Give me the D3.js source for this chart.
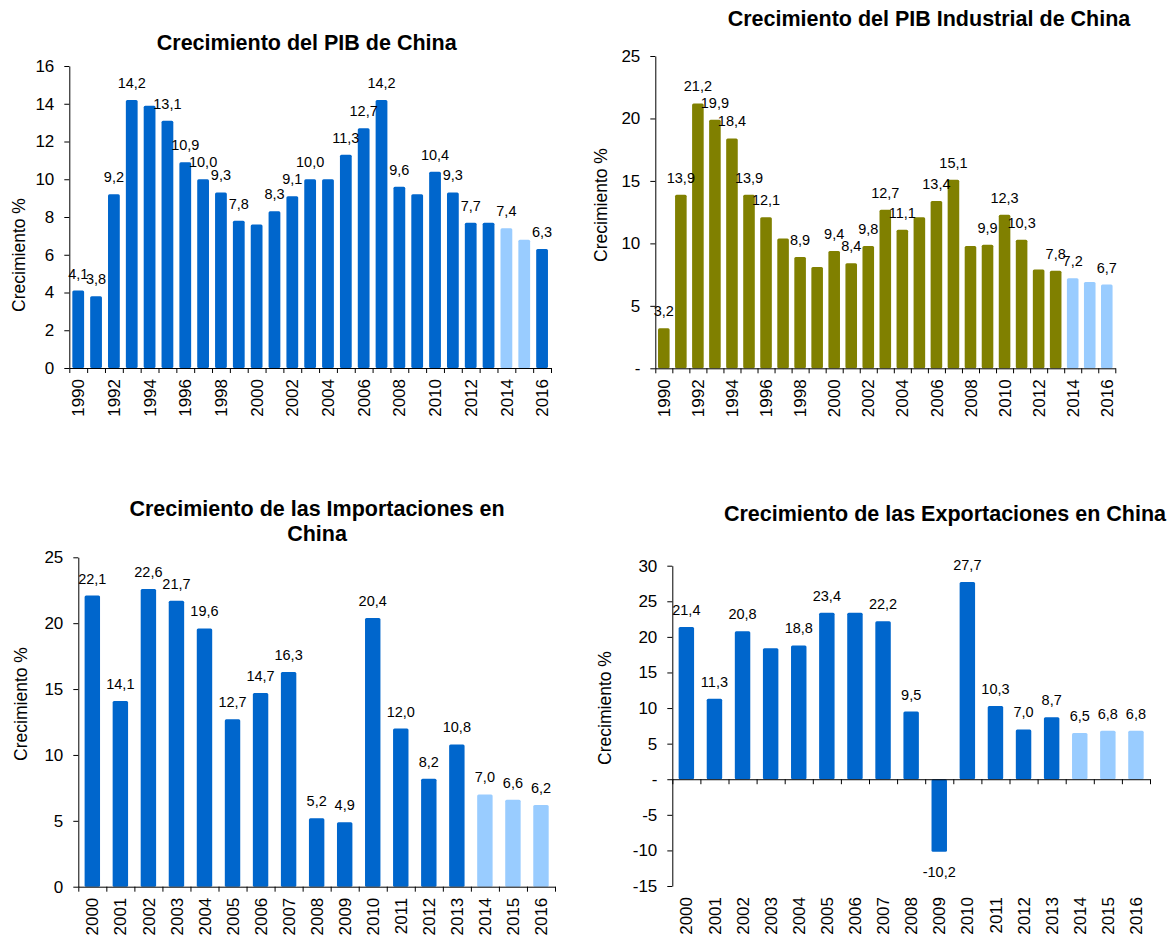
<!DOCTYPE html>
<html><head><meta charset="utf-8">
<script src="https://cdn.jsdelivr.net/npm/d3@7"></script>
<style>
body{margin:0;background:#fff}
svg{display:block}
text{font-family:"Liberation Sans",Arial,Helvetica,sans-serif;fill:#000}
</style>
</head><body>
<svg id="chart" width="1176" height="940"></svg>
<script>
// ---------- DATA ----------
const gdpYears = ["1990","1991","1992","1993","1994","1995","1996","1997","1998","1999","2000","2001","2002","2003","2004","2005","2006","2007","2008","2009","2010","2011","2012","2013","2014","2015","2016"];
const gdpValues = [4.1,3.8,9.2,14.2,13.9,13.1,10.9,10.0,9.3,7.8,7.6,8.3,9.1,10.0,10.0,11.3,12.7,14.2,9.6,9.2,10.4,9.3,7.7,7.7,7.4,6.8,6.3];
const gdpUnlabeled = ["1994","2000","2004","2009","2013","2015"];
const gdpForecast = ["2014","2015"];

const indValues = [3.2,13.9,21.2,19.9,18.4,13.9,12.1,10.4,8.9,8.1,9.4,8.4,9.8,12.7,11.1,12.1,13.4,15.1,9.8,9.9,12.3,10.3,7.9,7.8,7.2,6.9,6.7];
const indUnlabeled = ["1997","1999","2005","2008","2012","2015"];
const indForecast = ["2014","2015","2016"];

const tradeYears = ["2000","2001","2002","2003","2004","2005","2006","2007","2008","2009","2010","2011","2012","2013","2014","2015","2016"];
const impValues = [22.1,14.1,22.6,21.7,19.6,12.7,14.7,16.3,5.2,4.9,20.4,12.0,8.2,10.8,7.0,6.6,6.2];
const impUnlabeled = [];
const impForecast = ["2014","2015","2016"];

const expValues = [21.4,11.3,20.8,18.4,18.8,23.4,23.4,22.2,9.5,-10.2,27.7,10.3,7.0,8.7,6.5,6.8,6.8];
const expUnlabeled = ["2003","2006"];
const expForecast = ["2014","2015","2016"];

const longTickLabels = ["1990","1992","1994","1996","1998","2000","2002","2004","2006","2008","2010","2012","2014","2016"];
const gdpYTicks = [0,2,4,6,8,10,12,14,16];
const indYTicks = [0,5,10,15,20,25];
const impYTicks = [0,5,10,15,20,25];
const expYTicks = [-15,-10,-5,0,5,10,15,20,25,30];

const titles = {
  gdp: ["Crecimiento del PIB de China"],
  ind: ["Crecimiento del PIB Industrial de China"],
  imp: ["Crecimiento de las Importaciones en", "China"],
  exp: ["Crecimiento de las Exportaciones en China"]
};
const yTitle = "Crecimiento %";

// ---------- STYLE ----------
const DARK = "#0066CC", LIGHT = "#99CCFF", OLIVE = "#808000";
const locale = d3.formatLocale({decimal: ",", thousands: ".", grouping: [3], currency: ["", ""], minus: "-"});
const fmt1 = locale.format(".1f");

const svg = d3.select("#chart");

function drawChart(c) {
  const g = svg.append("g");
  const y = d3.scaleLinear().domain(c.domain).range([c.yBot, c.yTop]);
  const x = d3.scaleBand().domain(c.cats).range([c.x0, c.x1])
    .paddingInner(c.pad).paddingOuter(c.pad / 2);
  const xi = d3.scaleLinear().domain([0, c.cats.length]).range([c.x0, c.x1]);
  const zeroY = y(0);

  // bars
  g.selectAll("rect.bar").data(c.cats).join("rect")
    .attr("class", "bar")
    .attr("x", d => x(d))
    .attr("width", x.bandwidth())
    .attr("y", (d, i) => y(Math.max(0, c.values[i])))
    .attr("height", (d, i) => Math.abs(y(c.values[i]) - zeroY))
    .attr("rx", 1.5)
    .attr("fill", d => c.forecast.includes(d) ? LIGHT : c.color);

  // y axis
  const yAxis = d3.axisLeft(y).tickValues(c.yTicks).tickSize(5).tickSizeOuter(0)
    .tickPadding(10).tickFormat(c.yFormat);
  const ya = g.append("g").attr("transform", `translate(${c.x0},0)`).call(yAxis);
  ya.selectAll("text").style("font-size", "17px").attr("fill", "#000")
    .style("font-family", '"Liberation Sans",Arial,sans-serif');
  ya.select(".domain").attr("stroke", "#000");
  ya.selectAll(".tick line").attr("stroke", "#000");

  // x axis (ticks on category boundaries)
  const xAxis = d3.axisBottom(xi).tickValues(d3.range(c.cats.length + 1)).tickSize(5)
    .tickSizeOuter(0).tickFormat("");
  const xa = g.append("g").attr("transform", `translate(0,${zeroY})`).call(xAxis);
  xa.select(".domain").attr("stroke", "#000");
  xa.selectAll(".tick line").attr("stroke", "#000");

  // x tick labels (rotated)
  const shown = c.cats.filter(d => c.xLabels.includes(d));
  g.selectAll("text.xl").data(shown).join("text")
    .attr("class", "xl")
    .attr("transform", d => `translate(${x(d) + x.bandwidth() / 2},${c.yBot + 11}) rotate(-90)`)
    .attr("text-anchor", "end").attr("dy", "0.36em")
    .style("font-size", "17px")
    .text(d => d);

  // data labels
  g.selectAll("text.dl").data(c.cats.filter(d => !c.unlabeled.includes(d))).join("text")
    .attr("class", "dl")
    .attr("x", d => x(d) + x.bandwidth() / 2)
    .attr("y", d => { const v = c.values[c.cats.indexOf(d)]; return v >= 0 ? y(v) - 12 : y(v) + 25; })
    .attr("text-anchor", "middle")
    .style("font-size", "14.5px").attr("fill", "#111")
    .text(d => fmt1(c.values[c.cats.indexOf(d)]));

  // y title
  g.append("text")
    .attr("transform", `translate(${c.yTitleX},${c.yTitleY}) rotate(-90)`)
    .attr("text-anchor", "middle").attr("dy", "0.35em")
    .style("font-size", "17.5px")
    .text(yTitle);

  // chart title
  c.title.forEach((t, i) => {
    g.append("text")
      .attr("x", c.titleX).attr("y", c.titleY + i * 25)
      .attr("text-anchor", "middle")
      .style("font-size", "21.5px").style("font-weight", "bold")
      .text(t);
  });
}

const intFmt = d => String(d);
const dashFmt = d => d === 0 ? "-" : String(d);

drawChart({
  cats: gdpYears, values: gdpValues, unlabeled: gdpUnlabeled, forecast: gdpForecast,
  color: DARK, domain: [0, 16], yTicks: gdpYTicks, yFormat: intFmt, xLabels: longTickLabels,
  x0: 69.3, x1: 551, yTop: 66, yBot: 368, pad: 0.34,
  yTitleX: 18.5, yTitleY: 255, title: titles.gdp, titleX: 306.7, titleY: 50
});
drawChart({
  cats: gdpYears, values: indValues, unlabeled: indUnlabeled, forecast: indForecast,
  color: OLIVE, domain: [0, 25], yTicks: indYTicks, yFormat: dashFmt, xLabels: longTickLabels,
  x0: 655.3, x1: 1115.3, yTop: 56, yBot: 368.3, pad: 0.32,
  yTitleX: 601, yTitleY: 205, title: titles.ind, titleX: 929, titleY: 26
});
drawChart({
  cats: tradeYears, values: impValues, unlabeled: impUnlabeled, forecast: impForecast,
  color: DARK, domain: [0, 25], yTicks: impYTicks, yFormat: intFmt, xLabels: tradeYears,
  x0: 78.3, x1: 555, yTop: 557.3, yBot: 886.7, pad: 0.45,
  yTitleX: 21, yTitleY: 704, title: titles.imp, titleX: 317, titleY: 516
});
drawChart({
  cats: tradeYears, values: expValues, unlabeled: expUnlabeled, forecast: expForecast,
  color: DARK, domain: [-15, 30], yTicks: expYTicks, yFormat: dashFmt, xLabels: tradeYears,
  x0: 672.3, x1: 1150, yTop: 565.7, yBot: 886, pad: 0.45,
  yTitleX: 604.5, yTitleY: 708, title: titles.exp, titleX: 945, titleY: 521
});
</script>
</body></html>
